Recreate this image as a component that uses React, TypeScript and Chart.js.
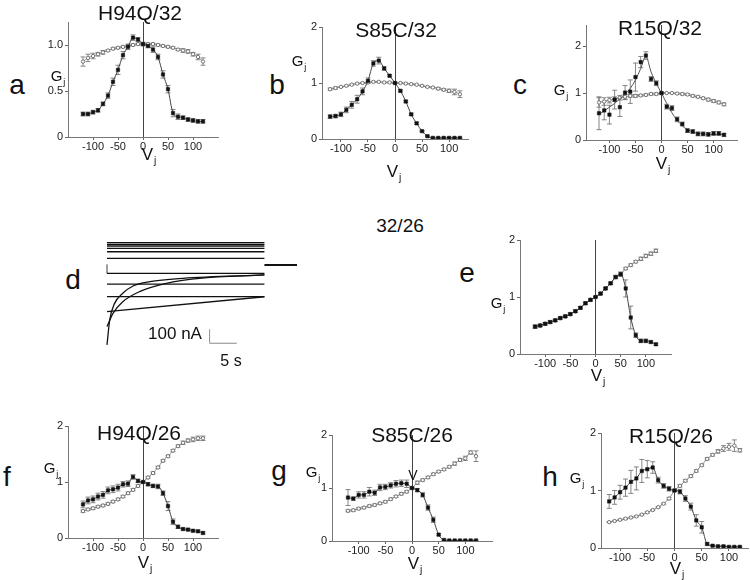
import React, { useEffect, useRef } from 'react';
import { Chart, registerables } from 'chart.js';
Chart.register(...registerables);

const FONT = '"Liberation Sans", Arial, Helvetica, sans-serif';

// ---------- shared axes ----------
const volts = [-120, -110, -100, -90, -80, -70, -60, -50, -40, -30, -20, -10, 0, 10, 20, 30, 40, 50, 60, 70, 80, 90, 100, 110, 120];
const voltTicks = [-100, -50, 0, 50, 100];
const gTicks = [0, 1, 2];
const gTickLabels = ['0', '1', '2'];
const aGTicks = [0, 0.5, 1.0];
const aGTickLabels = ['0', '0.5', '1.0'];

// ---------- a: H94Q/32 ----------
const aClosed = [0.25, 0.25, 0.27, 0.29, 0.36, 0.45, 0.6, 0.73, 0.89, 0.98, 1.08, 1.06, 1.01, 0.99, 0.95, 0.87, 0.68, 0.52, 0.26, 0.22, 0.21, 0.19, 0.18, 0.17, 0.17];
const aClosedErr = [0.02, 0.02, 0.02, 0.02, 0.02, 0.03, 0.04, 0.05, 0.04, 0.03, 0.03, 0.02, 0.02, 0.02, 0.03, 0.03, 0.04, 0.04, 0.04, 0.03, 0.02, 0.02, 0.02, 0.02, 0.02];
const aOpen = [0.82, 0.86, 0.88, 0.9, 0.92, 0.94, 0.96, 0.97, 0.98, 0.99, 1.0, 1.01, 1.01, 1.01, 1.01, 1.0, 0.99, 0.98, 0.97, 0.95, 0.94, 0.93, 0.9, 0.87, 0.82];
const aOpenErr = [0.05, 0.04, 0.03, 0.02, 0.02, 0.01, 0.01, 0.01, 0.01, 0.01, 0.01, 0.01, 0.01, 0.01, 0.01, 0.01, 0.01, 0.01, 0.01, 0.01, 0.02, 0.02, 0.02, 0.03, 0.04];

// ---------- b: S85C/32 ----------
const bClosed = [0.4, 0.41, 0.44, 0.52, 0.61, 0.71, 0.85, 1.04, 1.35, 1.4, 1.26, 1.13, 1.0, 0.86, 0.67, 0.44, 0.28, 0.14, 0.05, 0.02, 0.02, 0.02, 0.02, 0.02, 0.02];
const bClosedErr = [0.03, 0.03, 0.04, 0.05, 0.06, 0.07, 0.06, 0.05, 0.05, 0.06, 0.03, 0.02, 0.01, 0.02, 0.02, 0.02, 0.02, 0.01, 0.01, 0.01, 0.01, 0.01, 0.01, 0.01, 0.01];
const bOpen = [0.89, 0.91, 0.93, 0.95, 0.97, 0.99, 1.0, 1.01, 1.02, 1.02, 1.01, 1.01, 1.0, 1.0, 0.99, 0.98, 0.97, 0.95, 0.93, 0.92, 0.9, 0.88, 0.86, 0.84, 0.8];
const bOpenErr = [0.02, 0.02, 0.01, 0.01, 0.01, 0.01, 0.01, 0.01, 0.01, 0.01, 0.01, 0.01, 0.01, 0.01, 0.01, 0.01, 0.01, 0.01, 0.01, 0.01, 0.02, 0.02, 0.03, 0.05, 0.06];

// ---------- c: R15Q/32 ----------
const cClosed = [0.57, 0.63, 0.54, 0.86, 0.7, 1.01, 1.03, 1.34, 1.66, 1.8, 1.3, 1.21, 1.0, 0.71, 0.68, 0.44, 0.34, 0.2, 0.18, 0.13, 0.13, 0.12, 0.14, 0.14, 0.11];
const cClosedErr = [0.35, 0.2, 0.2, 0.2, 0.2, 0.15, 0.25, 0.3, 0.12, 0.08, 0.05, 0.05, 0.02, 0.05, 0.05, 0.05, 0.04, 0.04, 0.04, 0.04, 0.04, 0.04, 0.04, 0.04, 0.03];
const cClosedFit = [0.55, 0.62, 0.7, 0.78, 0.88, 0.98, 1.1, 1.28, 1.52, 1.78, 1.45, 1.2, 1.0, 0.78, 0.58, 0.42, 0.3, 0.22, 0.17, 0.14, 0.13, 0.12, 0.12, 0.12, 0.12];
const cOpen = [0.8, 0.82, 0.85, 0.87, 0.9, 0.92, 0.94, 0.94, 0.95, 0.96, 0.98, 0.98, 1.0, 1.0, 1.0, 0.99, 0.98, 0.97, 0.94, 0.92, 0.89, 0.86, 0.83, 0.8, 0.76];
const cOpenErr = [0.1, 0.08, 0.06, 0.05, 0.05, 0.05, 0.03, 0.03, 0.02, 0.02, 0.02, 0.02, 0.01, 0.01, 0.01, 0.01, 0.02, 0.02, 0.02, 0.02, 0.02, 0.03, 0.03, 0.03, 0.03];

// ---------- d: current traces (time s, current nA) ----------
const dFlatLevels = [160, 148, 136, 119, 95, 48, -60, -136, -226];
const dPulseEnd = 29;
const dHoldEnd = 35;
const dTraceAT = [0, 0.5, 1.4, 2.9, 4.8, 7.9, 14, 29];
const dTraceAI = [-571, -393, -274, -202, -150, -119, -95, -71];
const dTraceBT = [0, 1.1, 2.9, 6, 10.9, 17, 29];
const dTraceBI = [-440, -345, -262, -190, -131, -95, -71];
const dTraceCT = [0, 29];
const dTraceCI = [-333, -226];
const dScaleBarT = [18.9, 18.9, 23.9];
const dScaleBarI = [-459, -559, -559];

// ---------- e: 32/26 ----------
const eClosed = [0.48, 0.5, 0.53, 0.56, 0.59, 0.63, 0.66, 0.7, 0.75, 0.81, 0.89, 0.95, 1.0, 1.06, 1.15, 1.24, 1.35, 1.4, 1.15, 0.64, 0.33, 0.23, 0.23, 0.21, 0.17];
const eClosedErr = [0.03, 0.02, 0.02, 0.02, 0.02, 0.02, 0.02, 0.02, 0.02, 0.02, 0.02, 0.02, 0.01, 0.02, 0.02, 0.02, 0.03, 0.04, 0.15, 0.2, 0.04, 0.03, 0.03, 0.02, 0.02];
const eOpen = [0.48, 0.5, 0.53, 0.56, 0.59, 0.63, 0.66, 0.7, 0.75, 0.81, 0.89, 0.95, 1.0, 1.06, 1.15, 1.24, 1.35, 1.4, 1.5, 1.56, 1.62, 1.67, 1.72, 1.76, 1.81];
const eOpenErr = [0.02, 0.02, 0.02, 0.02, 0.02, 0.02, 0.02, 0.02, 0.02, 0.02, 0.02, 0.02, 0.01, 0.02, 0.02, 0.02, 0.02, 0.02, 0.02, 0.02, 0.02, 0.03, 0.03, 0.03, 0.03];

// ---------- f: H94Q/26 ----------
const fClosed = [0.6, 0.67, 0.69, 0.74, 0.77, 0.85, 0.87, 0.9, 0.96, 0.97, 1.09, 1.02, 1.0, 0.96, 0.93, 0.92, 0.8, 0.57, 0.29, 0.2, 0.16, 0.15, 0.13, 0.12, 0.09];
const fClosedErr = [0.06, 0.06, 0.06, 0.06, 0.06, 0.06, 0.06, 0.06, 0.05, 0.05, 0.04, 0.03, 0.01, 0.03, 0.03, 0.04, 0.04, 0.08, 0.05, 0.03, 0.02, 0.02, 0.02, 0.02, 0.02];
const fOpen = [0.48, 0.51, 0.53, 0.56, 0.58, 0.61, 0.65, 0.69, 0.74, 0.8, 0.86, 0.93, 1.0, 1.08, 1.16, 1.26, 1.38, 1.46, 1.56, 1.64, 1.7, 1.74, 1.76, 1.78, 1.78];
const fOpenErr = [0.02, 0.02, 0.02, 0.02, 0.02, 0.02, 0.02, 0.02, 0.02, 0.02, 0.02, 0.02, 0.01, 0.02, 0.02, 0.02, 0.02, 0.02, 0.02, 0.02, 0.03, 0.03, 0.04, 0.04, 0.04];

// ---------- g: S85C/26 ----------
const gClosed = [0.82, 0.8, 0.87, 0.87, 0.93, 0.91, 1.01, 1.02, 1.05, 1.08, 1.09, 1.08, 1.0, 0.96, 0.87, 0.63, 0.4, 0.12, 0.02, 0.01, 0.01, 0.01, 0.01, 0.01, 0.01];
const gClosedErr = [0.15, 0.03, 0.06, 0.06, 0.08, 0.05, 0.06, 0.05, 0.05, 0.06, 0.06, 0.07, 0.02, 0.03, 0.04, 0.05, 0.05, 0.02, 0.01, 0.01, 0.01, 0.01, 0.01, 0.01, 0.01];
const gOpen = [0.57, 0.58, 0.61, 0.63, 0.66, 0.68, 0.71, 0.74, 0.79, 0.84, 0.89, 0.93, 1.0, 1.1, 1.15, 1.2, 1.26, 1.31, 1.35, 1.4, 1.46, 1.53, 1.56, 1.67, 1.6];
const gOpenErr = [0.02, 0.02, 0.02, 0.02, 0.02, 0.02, 0.02, 0.02, 0.02, 0.02, 0.02, 0.02, 0.01, 0.03, 0.02, 0.02, 0.02, 0.02, 0.02, 0.02, 0.03, 0.03, 0.04, 0.03, 0.1];

// ---------- h: R15Q/26 ----------
const hClosed = [0.81, 0.88, 0.97, 1.05, 1.15, 1.21, 1.34, 1.37, 1.4, 1.18, 1.08, 1.03, 1.0, 0.98, 0.86, 0.72, 0.48, 0.36, 0.07, 0.04, 0.03, 0.03, 0.02, 0.02, 0.02];
const hClosedErr = [0.12, 0.12, 0.12, 0.15, 0.2, 0.2, 0.2, 0.15, 0.1, 0.05, 0.04, 0.04, 0.02, 0.04, 0.05, 0.06, 0.1, 0.1, 0.02, 0.01, 0.01, 0.01, 0.01, 0.01, 0.01];
const hOpen = [0.45, 0.47, 0.49, 0.51, 0.53, 0.55, 0.58, 0.62, 0.66, 0.71, 0.77, 0.86, 1.0, 1.08, 1.17, 1.25, 1.34, 1.44, 1.55, 1.62, 1.68, 1.73, 1.76, 1.78, 1.7];
const hOpenErr = [0.01, 0.01, 0.01, 0.01, 0.01, 0.01, 0.01, 0.01, 0.01, 0.01, 0.01, 0.02, 0.01, 0.02, 0.02, 0.02, 0.02, 0.02, 0.02, 0.02, 0.03, 0.05, 0.06, 0.1, 0.03];

// ---------- helpers ----------
const YW = 34, PT = 10, PR = 10, XH = 22;

type SetDef = { values: number[]; errors?: number[]; kind: 'filled' | 'open' | 'fit' | 'points' };

const errorBarPlugin = {
  id: 'errorBars',
  beforeDatasetsDraw(chart: any) {
    const ctx = chart.ctx;
    const xs = chart.scales.x, ys = chart.scales.y;
    ctx.save();
    ctx.strokeStyle = '#6a6a6a';
    ctx.lineWidth = 0.8;
    chart.data.datasets.forEach((ds: any) => {
      const errs: number[] | undefined = ds.errors;
      if (!errs) return;
      ds.data.forEach((p: any, j: number) => {
        const e = errs[j];
        if (!e) return;
        const x = xs.getPixelForValue(p.x);
        const y1 = ys.getPixelForValue(p.y - e);
        const y2 = ys.getPixelForValue(p.y + e);
        ctx.beginPath();
        ctx.moveTo(x, y1); ctx.lineTo(x, y2);
        ctx.moveTo(x - 2.5, y1); ctx.lineTo(x + 2.5, y1);
        ctx.moveTo(x - 2.5, y2); ctx.lineTo(x + 2.5, y2);
        ctx.stroke();
      });
    });
    ctx.restore();
  },
};

function makeDataset(s: SetDef) {
  const data = volts.map((v, i) => ({ x: v, y: s.values[i] }));
  const base: any = {
    data,
    errors: s.errors,
    showLine: s.kind !== 'points',
    cubicInterpolationMode: 'monotone',
    borderWidth: 1,
  };
  if (s.kind === 'filled' || s.kind === 'points') {
    return { ...base, borderColor: '#444', backgroundColor: '#111', pointStyle: 'rect', pointRadius: 2.4, pointBorderWidth: 0.5, pointBorderColor: '#111', pointBackgroundColor: '#111' };
  }
  if (s.kind === 'open') {
    return { ...base, borderColor: '#888', backgroundColor: '#fff', pointStyle: 'circle', pointRadius: 1.7, pointBorderWidth: 0.9, pointBorderColor: '#666', pointBackgroundColor: '#fff' };
  }
  return { ...base, borderColor: '#555', pointRadius: 0, errors: undefined };
}

function GjPanel(props: { area: number[]; xMax: number; yMax: number; yTicks: number[]; yTickLabels: string[]; sets: SetDef[] }) {
  const ref = useRef<HTMLCanvasElement>(null);
  const [L, T, R, B] = props.area;
  const w = R - L + YW + PR;
  const h = B - T + PT + XH;
  useEffect(() => {
    const tickFont = { family: FONT, size: 11 };
    const chart = new Chart(ref.current as HTMLCanvasElement, {
      type: 'scatter',
      data: { datasets: props.sets.map(makeDataset) as any },
      options: {
        animation: false,
        responsive: false,
        devicePixelRatio: 1,
        layout: { padding: { top: PT, right: PR, left: 0, bottom: 0 } },
        plugins: { legend: { display: false }, tooltip: { enabled: false } },
        elements: { line: { tension: 0.3 } },
        scales: {
          x: {
            type: 'linear',
            min: -props.xMax,
            max: props.xMax,
            afterBuildTicks: (s: any) => { s.ticks = voltTicks.map((v) => ({ value: v })); },
            afterFit: (s: any) => { s.height = XH; },
            ticks: { font: tickFont, color: '#222', padding: 0, maxRotation: 0, autoSkip: false, callback: (v: any) => String(v) },
            grid: {
              color: (c: any) => (c.tick && c.tick.value === 0 ? '#444' : 'rgba(0,0,0,0)'),
              tickColor: '#666',
              tickLength: 3,
              lineWidth: 1,
            },
            border: { display: true, color: '#777', width: 1 },
          },
          y: {
            type: 'linear',
            min: 0,
            max: props.yMax,
            afterBuildTicks: (s: any) => { s.ticks = props.yTicks.map((v) => ({ value: v })); },
            afterFit: (s: any) => { s.width = YW; },
            ticks: { font: tickFont, color: '#222', padding: 2, autoSkip: false, callback: (_v: any, i: number) => props.yTickLabels[i] },
            grid: { color: 'rgba(0,0,0,0)', tickColor: '#666', tickLength: 3 },
            border: { display: true, color: '#777', width: 1 },
          },
        },
      } as any,
      plugins: [errorBarPlugin],
    });
    return () => chart.destroy();
  }, []);
  return <canvas ref={ref} width={w} height={h} style={{ position: 'absolute', left: L - YW, top: T - PT, width: w, height: h }} />;
}

function TracePanel() {
  const ref = useRef<HTMLCanvasElement>(null);
  useEffect(() => {
    const line = (pts: { x: number; y: number }[], color: string, width: number) => ({
      data: pts, showLine: true, borderColor: color, borderWidth: width, pointRadius: 0, tension: 0.35, cubicInterpolationMode: 'monotone', clip: false,
    });
    const datasets: any[] = [];
    dFlatLevels.forEach((lv) => datasets.push(line([{ x: 0, y: lv }, { x: dPulseEnd, y: lv }], '#111', 1.3)));
    datasets.push(line(dTraceAT.map((t, i) => ({ x: t, y: dTraceAI[i] })), '#111', 1.3));
    datasets.push(line(dTraceBT.map((t, i) => ({ x: t, y: dTraceBI[i] })), '#111', 1.3));
    datasets.push(line(dTraceCT.map((t, i) => ({ x: t, y: dTraceCI[i] })), '#111', 1.5));
    datasets.push(line([{ x: dPulseEnd, y: 0 }, { x: dHoldEnd, y: 0 }], '#111', 2));
    datasets.push(line([{ x: 0, y: 5 }, { x: 0, y: -60 }], '#333', 1));
    datasets.push({ ...line(dScaleBarT.map((t, i) => ({ x: t, y: dScaleBarI[i] })), '#888', 1), tension: 0 });
    const chart = new Chart(ref.current as HTMLCanvasElement, {
      type: 'scatter',
      data: { datasets },
      options: {
        animation: false,
        responsive: false,
        devicePixelRatio: 1,
        layout: { padding: 5 },
        plugins: { legend: { display: false }, tooltip: { enabled: false } },
        scales: {
          x: { type: 'linear', min: 0, max: 35, display: false },
          y: { type: 'linear', min: -593, max: 179, display: false },
        },
      } as any,
    });
    return () => chart.destroy();
  }, []);
  return <canvas ref={ref} width={200} height={118} style={{ position: 'absolute', left: 102, top: 235, width: 200, height: 118 }} />;
}

// text placed by horizontal centre and baseline
function Txt(props: { x: number; base: number; size: number; children: React.ReactNode; color?: string }) {
  return (
    <div
      style={{
        position: 'absolute',
        left: props.x,
        top: props.base - 0.8465 * props.size,
        transform: 'translateX(-50%)',
        fontFamily: FONT,
        fontSize: props.size,
        lineHeight: 1,
        whiteSpace: 'nowrap',
        color: props.color || '#111',
      }}
    >
      {props.children}
    </div>
  );
}

const Sub = (p: { children: React.ReactNode }) => (
  <span style={{ fontSize: '0.6em', position: 'relative', top: '0.4em', marginLeft: 1 }}>{p.children}</span>
);

export default function App() {
  return (
    <div style={{ position: 'absolute', left: 0, top: 0, width: 750, height: 580, background: '#fff', overflow: 'hidden' }}>
      <GjPanel area={[68, 22, 218, 137]} xMax={150} yMax={1.25} yTicks={aGTicks} yTickLabels={aGTickLabels}
        sets={[{ values: aClosed, errors: aClosedErr, kind: 'filled' }, { values: aOpen, errors: aOpenErr, kind: 'open' }]} />
      <GjPanel area={[322, 27, 468, 139]} xMax={135} yMax={2} yTicks={gTicks} yTickLabels={gTickLabels}
        sets={[{ values: bClosed, errors: bClosedErr, kind: 'filled' }, { values: bOpen, errors: bOpenErr, kind: 'open' }]} />
      <GjPanel area={[586, 25, 737, 140]} xMax={145} yMax={2.45} yTicks={gTicks} yTickLabels={gTickLabels}
        sets={[{ values: cClosed, errors: cClosedErr, kind: 'points' }, { values: cClosedFit, kind: 'fit' }, { values: cOpen, errors: cOpenErr, kind: 'open' }]} />
      <TracePanel />
      <GjPanel area={[520, 240, 671, 354]} xMax={150} yMax={2} yTicks={gTicks} yTickLabels={gTickLabels}
        sets={[{ values: eClosed, errors: eClosedErr, kind: 'filled' }, { values: eOpen, errors: eOpenErr, kind: 'open' }]} />
      <GjPanel area={[68, 426, 218, 538]} xMax={150} yMax={2} yTicks={gTicks} yTickLabels={gTickLabels}
        sets={[{ values: fClosed, errors: fClosedErr, kind: 'filled' }, { values: fOpen, errors: fOpenErr, kind: 'open' }]} />
      <GjPanel area={[332, 435, 492, 541]} xMax={150} yMax={2} yTicks={gTicks} yTickLabels={gTickLabels}
        sets={[{ values: gClosed, errors: gClosedErr, kind: 'filled' }, { values: gOpen, errors: gOpenErr, kind: 'open' }]} />
      <GjPanel area={[601, 433, 748, 548]} xMax={135} yMax={2} yTicks={gTicks} yTickLabels={gTickLabels}
        sets={[{ values: hClosed, errors: hClosedErr, kind: 'filled' }, { values: hOpen, errors: hOpenErr, kind: 'open' }]} />

      {/* titles */}
      <Txt x={140} base={20} size={21}>H94Q/32</Txt>
      <Txt x={396} base={37} size={21}>S85C/32</Txt>
      <Txt x={660} base={35} size={21}>R15Q/32</Txt>
      <Txt x={400} base={232} size={19}>32/26</Txt>
      <Txt x={139} base={440} size={21}>H94Q/26</Txt>
      <Txt x={412} base={442} size={21}>S85C/26</Txt>
      <Txt x={671} base={443} size={21}>R15Q/26</Txt>

      {/* panel letters */}
      <Txt x={17} base={95} size={28}>a</Txt>
      <Txt x={277} base={95} size={28}>b</Txt>
      <Txt x={520} base={95} size={28}>c</Txt>
      <Txt x={73} base={290} size={28}>d</Txt>
      <Txt x={467} base={283} size={28}>e</Txt>
      <Txt x={7} base={487} size={28}>f</Txt>
      <Txt x={279} base={481} size={28}>g</Txt>
      <Txt x={550} base={487} size={28}>h</Txt>

      {/* G_j labels */}
      <Txt x={58} base={81} size={15}>G<Sub>j</Sub></Txt>
      <Txt x={299} base={66} size={15}>G<Sub>j</Sub></Txt>
      <Txt x={561} base={95} size={15}>G<Sub>j</Sub></Txt>
      <Txt x={498} base={308} size={15}>G<Sub>j</Sub></Txt>
      <Txt x={51} base={473} size={15}>G<Sub>j</Sub></Txt>
      <Txt x={313} base={477} size={15}>G<Sub>j</Sub></Txt>
      <Txt x={577} base={483} size={15}>G<Sub>j</Sub></Txt>

      {/* V_j labels */}
      <Txt x={149} base={160} size={17}>V<Sub>j</Sub></Txt>
      <Txt x={394} base={177} size={17}>V<Sub>j</Sub></Txt>
      <Txt x={663} base={169} size={17}>V<Sub>j</Sub></Txt>
      <Txt x={598} base={381} size={17}>V<Sub>j</Sub></Txt>
      <Txt x={145} base={568} size={17}>V<Sub>j</Sub></Txt>
      <Txt x={415} base={569} size={17}>V<Sub>j</Sub></Txt>
      <Txt x={677} base={574} size={17}>V<Sub>j</Sub></Txt>
      <Txt x={413} base={480} size={14}>V</Txt>

      {/* scale bar labels */}
      <Txt x={175} base={339} size={17}>100 nA</Txt>
      <Txt x={231} base={367} size={16}>5 s</Txt>
    </div>
  );
}
